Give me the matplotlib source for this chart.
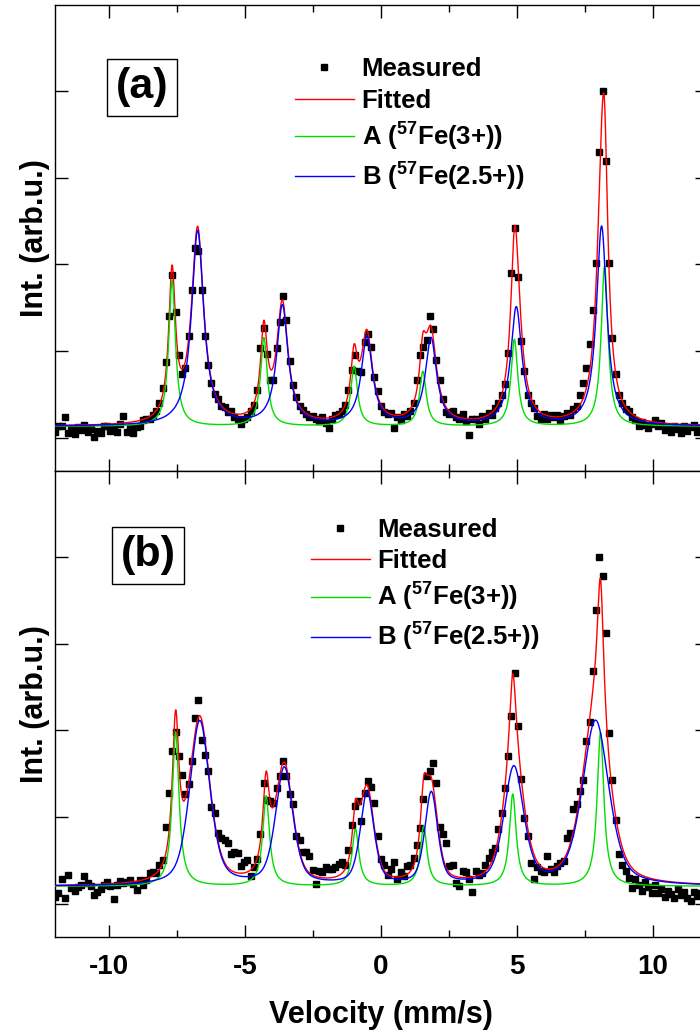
import numpy as np
import matplotlib
matplotlib.use("Agg")
import matplotlib.pyplot as plt
from matplotlib.ticker import MultipleLocator

plt.rcParams["font.family"] = ["Liberation Sans", "DejaVu Sans"]
plt.rcParams["font.weight"] = "bold"
plt.rcParams["mathtext.fontset"] = "custom"
plt.rcParams["mathtext.rm"] = "Liberation Sans:bold"
plt.rcParams["mathtext.bf"] = "Liberation Sans:bold"
plt.rcParams["mathtext.default"] = "bf"
plt.rcParams["axes.unicode_minus"] = False

# velocity channels (mm/s), step 0.12
velocidade = np.round(np.arange(-12.0, 12.0001, 0.12), 2)

# measured intensities, panel (a), rows of 10 channels
medido_a = [
    0.06, 0.13, 0.14, 0.24, 0.05, 0.11, 0.04, 0.12, 0.09, 0.15,   # -12.00
    0.07, 0.10, 0.01, 0.08, 0.05, 0.14, 0.13, 0.08, 0.12, 0.06,   # -10.80
    0.16, 0.25, 0.07, 0.11, 0.05, 0.12, 0.14, 0.20, 0.22, 0.21,   # -9.60
    0.26, 0.31, 0.40, 0.57, 0.87, 1.40, 1.88, 1.45, 0.95, 0.73,   # -8.40
    0.80, 1.17, 1.70, 2.19, 2.15, 1.70, 1.17, 0.84, 0.63, 0.50,   # -7.20
    0.45, 0.37, 0.35, 0.30, 0.31, 0.24, 0.22, 0.16, 0.21, 0.24,   # -6.00
    0.31, 0.38, 0.55, 1.03, 1.26, 0.97, 0.67, 0.66, 1.03, 1.33,   # -4.80
    1.63, 1.36, 0.89, 0.61, 0.47, 0.36, 0.32, 0.27, 0.24, 0.25,   # -3.60
    0.22, 0.19, 0.24, 0.17, 0.11, 0.22, 0.26, 0.27, 0.31, 0.38,   # -2.40
    0.55, 0.78, 0.95, 0.77, 0.76, 1.10, 1.20, 1.05, 0.70, 0.54,   # -1.20
    0.37, 0.30, 0.27, 0.29, 0.11, 0.24, 0.20, 0.27, 0.25, 0.31,   # 0.00
    0.40, 0.67, 0.95, 1.05, 1.13, 1.40, 1.25, 0.90, 0.66, 0.45,   # 1.20
    0.30, 0.27, 0.31, 0.24, 0.22, 0.27, 0.19, 0.03, 0.22, 0.21,   # 2.40
    0.16, 0.25, 0.21, 0.28, 0.26, 0.34, 0.40, 0.49, 0.62, 0.98,   # 3.60
    1.90, 2.42, 1.85, 1.11, 0.77, 0.49, 0.40, 0.34, 0.25, 0.22,   # 4.80
    0.27, 0.21, 0.26, 0.24, 0.26, 0.20, 0.25, 0.28, 0.26, 0.33,   # 6.00
    0.36, 0.49, 0.63, 0.80, 1.08, 1.47, 2.02, 3.30, 4.00, 3.19,   # 7.20
    2.02, 1.15, 0.74, 0.49, 0.40, 0.33, 0.31, 0.24, 0.20, 0.13,   # 8.40
    0.18, 0.15, 0.11, 0.16, 0.20, 0.14, 0.17, 0.09, 0.12, 0.06,   # 9.60
    0.14, 0.10, 0.05, 0.13, 0.08, 0.12, 0.15, 0.07, 0.11, 0.14,   # 10.80
    0.09,                                                         # 12.00
]

# measured intensities, panel (b)
medido_b = [
    0.08, 0.12, 0.28, 0.07, 0.33, 0.18, 0.15, 0.19, 0.22, 0.32,   # -12.00
    0.24, 0.20, 0.10, 0.14, 0.17, 0.21, 0.25, 0.20, 0.05, 0.22,   # -10.80
    0.26, 0.24, 0.25, 0.27, 0.23, 0.16, 0.27, 0.22, 0.27, 0.35,   # -9.60
    0.37, 0.35, 0.45, 0.50, 0.89, 1.28, 1.76, 1.98, 1.70, 1.48,   # -8.40
    1.26, 1.38, 1.64, 2.14, 2.35, 1.89, 1.72, 1.53, 1.12, 1.05,   # -7.20
    0.82, 0.76, 0.74, 0.70, 0.57, 0.60, 0.58, 0.43, 0.48, 0.50,   # -6.00
    0.32, 0.42, 0.51, 0.80, 1.39, 1.20, 1.18, 1.16, 1.33, 1.47,   # -4.80
    1.64, 1.47, 1.26, 1.15, 0.78, 0.74, 0.60, 0.60, 0.55, 0.39,   # -3.60
    0.23, 0.38, 0.36, 0.42, 0.40, 0.40, 0.42, 0.46, 0.48, 0.45,   # -2.40
    0.62, 0.91, 1.13, 1.18, 0.95, 1.28, 1.41, 1.35, 1.16, 0.78,   # -1.20
    0.51, 0.45, 0.33, 0.40, 0.48, 0.28, 0.36, 0.32, 0.44, 0.45,   # 0.00
    0.53, 0.68, 0.87, 1.21, 1.47, 1.53, 1.62, 1.39, 0.89, 0.80,   # 1.20
    0.70, 0.43, 0.45, 0.24, 0.20, 0.38, 0.36, 0.28, 0.14, 0.38,   # 2.40
    0.33, 0.35, 0.45, 0.53, 0.60, 0.64, 0.86, 1.05, 1.34, 1.70,   # 3.60
    2.17, 2.66, 2.05, 1.44, 0.99, 0.78, 0.47, 0.28, 0.42, 0.38,   # 4.80
    0.36, 0.55, 0.40, 0.36, 0.43, 0.47, 0.49, 0.76, 0.82, 1.09,   # 6.00
    1.15, 1.30, 1.43, 1.88, 2.09, 2.68, 3.39, 4.00, 3.78, 3.12,   # 7.20
    1.97, 1.43, 0.97, 0.57, 0.45, 0.38, 0.30, 0.18, 0.28, 0.22,   # 8.40
    0.15, 0.25, 0.19, 0.12, 0.21, 0.12, 0.17, 0.08, 0.15, 0.11,   # 9.60
    0.06, 0.17, 0.10, 0.13, 0.07, 0.03, 0.14, 0.09, 0.12, 0.06,   # 10.80
    0.11,                                                         # 12.00
]

# fitted sextets: line positions (mm/s), amplitudes, half widths
base_a = 0.13
pos_A_a = [-7.69, -4.31, -0.99, 1.54, 4.91, 8.23]
amp_A_a = [1.68, 1.02, 0.69, 0.63, 1.00, 1.85]
hw_A_a = [0.15, 0.15, 0.15, 0.15, 0.15, 0.15]
pos_B_a = [-6.75, -3.63, -0.52, 1.84, 4.98, 8.12]
amp_B_a = [2.25, 1.38, 1.02, 1.00, 1.36, 2.30]
hw_B_a = [0.27, 0.25, 0.25, 0.25, 0.25, 0.23]
eta_B_a = 1.0

base_b = 0.20
pos_A_b = [-7.56, -4.23, -0.94, 1.57, 4.85, 8.08]
amp_A_b = [1.78, 1.04, 0.655, 0.69, 1.06, 1.77]
hw_A_b = [0.15, 0.15, 0.15, 0.15, 0.15, 0.15]
pos_B_b = [-6.67, -3.56, -0.51, 1.85, 4.89, 7.90]
amp_B_b = [1.90, 1.35, 1.06, 1.06, 1.35, 1.90]
hw_B_b = [0.44, 0.38, 0.30, 0.28, 0.43, 0.58]
eta_B_b = 0.5

rotulos = ["Measured", "Fitted", r"A ($^{57}$Fe(3+))", r"B ($^{57}$Fe(2.5+))"]


def sexteto(x, pos, amp, hw, eta=1.0):
    """soma de linhas pseudo-Voigt"""
    y = np.zeros_like(x)
    for p, a, w in zip(pos, amp, hw):
        r2 = ((x - p) / w) ** 2
        y += a * (eta / (1 + r2) + (1 - eta) * np.exp(-np.log(2) * r2))
    return y


def painel(ax, medido, base, A, B, etiqueta, leg_xy, box_xy):
    xf = np.linspace(-12, 12, 2401)
    ya = sexteto(xf, *A)
    yb = sexteto(xf, *B)
    ax.plot(velocidade, medido, ls="none", marker="s", ms=5, color="black",
            label=rotulos[0], zorder=2)
    ax.plot(xf, base + ya + yb, color="#ff0000", lw=1.0, label=rotulos[1], zorder=3)
    ax.plot(xf, base + ya, color="#00dd00", lw=1.0, label=rotulos[2], zorder=3)
    ax.plot(xf, base + yb, color="#0000ff", lw=1.0, label=rotulos[3], zorder=4)

    ax.set_xlim(-12, 12)
    ax.set_ylim(-0.384, 4.99)
    ax.xaxis.set_major_locator(MultipleLocator(5))
    ax.xaxis.set_minor_locator(MultipleLocator(2.5))
    ax.set_yticks([0, 1, 2, 3, 4])
    ax.set_yticklabels([])
    ax.tick_params(which="both", direction="in", top=True, right=True, width=1.0)
    ax.tick_params(which="major", length=9)
    ax.tick_params(which="minor", length=5)
    ax.set_ylabel("Int. (arb.u.)", fontsize=22, fontweight="bold", labelpad=0)
    for s in ax.spines.values():
        s.set_linewidth(1.0)

    ax.text(box_xy[0], box_xy[1], etiqueta, transform=ax.transAxes,
            fontsize=31, fontweight="bold", ha="center", va="center",
            bbox=dict(boxstyle="square,pad=0.2", fc="white", ec="black", lw=1.0))

    ax.legend(loc="upper left", bbox_to_anchor=leg_xy, frameon=False,
              fontsize=18.5, handlelength=2.3, handletextpad=0.3,
              labelspacing=0.3, borderpad=0, borderaxespad=0, numpoints=1)


fig = plt.figure(figsize=(7.0, 10.35), dpi=100)
ax_a = fig.add_axes([55 / 700, 1 - 471 / 1035, 652 / 700, 466 / 1035])
ax_b = fig.add_axes([55 / 700, 1 - 937 / 1035, 652 / 700, 466 / 1035])

painel(ax_a, medido_a, base_a,
       (pos_A_a, amp_A_a, hw_A_a), (pos_B_a, amp_B_a, hw_B_a, eta_B_a),
       "(a)", (0.368, 0.888), (0.134, 0.823))
painel(ax_b, medido_b, base_b,
       (pos_A_b, amp_A_b, hw_A_b), (pos_B_b, amp_B_b, hw_B_b, eta_B_b),
       "(b)", (0.392, 0.900), (0.143, 0.819))

ax_a.tick_params(labelbottom=False)
ax_b.tick_params(axis="x", labelsize=20, pad=12)
ax_b.set_xlabel("Velocity (mm/s)", fontsize=22, fontweight="bold", labelpad=15)

fig.savefig("out.png", dpi=100)
